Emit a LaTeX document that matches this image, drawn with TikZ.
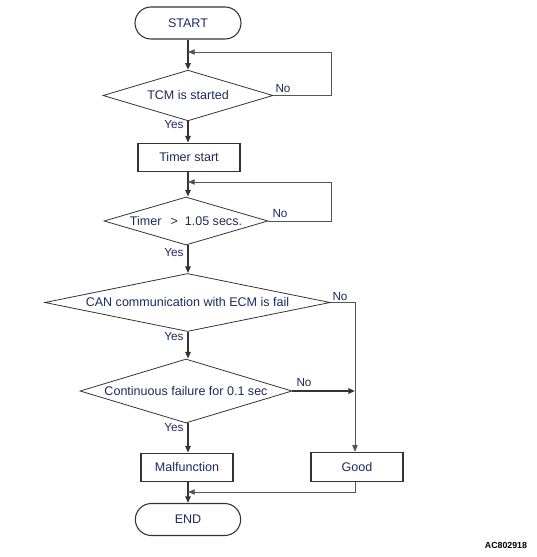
\documentclass[tikz,border=0pt]{standalone}
\usepackage{fontspec}
\setmainfont{Liberation Sans}
\usetikzlibrary{shapes.geometric,arrows.meta}
\definecolor{txt}{HTML}{1B2A5E}
\definecolor{ln}{HTML}{333333}
\definecolor{thinln}{HTML}{555555}
\begin{document}
\begin{tikzpicture}[x=0.75pt,y=-0.75pt,
  every node/.style={text=txt,font=\fontsize{9.4}{11}\selectfont},
  term/.style={draw=ln,line width=0.8pt,rectangle,rounded corners=12pt,inner sep=0pt},
  procbox/.style={draw=ln,line width=0.8pt,rectangle,inner sep=0pt},
  decision/.style={draw=ln,line width=0.6pt,diamond,inner sep=0pt},
  flow/.style={draw=ln,line width=1.6pt,-{Triangle[length=5pt,width=4pt]}},
  thinflow/.style={draw=thinln,line width=0.6pt,-{Triangle[length=5pt,width=4pt]}},
  thinline/.style={draw=thinln,line width=0.6pt},
  lab/.style={font=\fontsize{8.8}{10}\selectfont,inner sep=0pt}
]
\useasboundingbox (0,0) rectangle (536,557);
% nodes
\node[term,minimum width=79.5pt,minimum height=24pt] (start) at (188,23) {START};
\node[decision,minimum width=127.5pt,minimum height=38pt] (d1) at (188,95.5) {\makebox[0pt]{TCM is started}};
\node[procbox,minimum width=76.5pt,minimum height=21.5pt] (timer) at (189,157.5) {Timer start};
\node[decision,minimum width=123pt,minimum height=36pt] (d2) at (186,221) {\makebox[0pt]{Timer \ \,>\ \ 1.05 secs.}};
\node[decision,minimum width=214pt,minimum height=43.5pt] (d3) at (187.5,302.5) {\makebox[0pt]{CAN communication with ECM is fail}};
\node[decision,minimum width=159pt,minimum height=48pt] (d4) at (186,391) {\makebox[0pt]{Continuous failure for 0.1 sec}};
\node[procbox,minimum width=69pt,minimum height=21.5pt] (malf) at (187,467.5) {Malfunction};
\node[procbox,minimum width=69pt,minimum height=22pt] (good) at (357,467) {Good};
\node[term,minimum width=79pt,minimum height=24pt] (end) at (188,519.5) {END};
\node[font=\bfseries\fontsize{6.6}{8}\selectfont,text=black,inner sep=0pt] (code) at (506,545) {AC802918};
% coordinates
\coordinate (j1) at (188,52);
\coordinate (r1) at (331,52);
\coordinate (j2) at (188,182);
\coordinate (r2) at (331,182);
\coordinate (r3) at (355,302.5);
\coordinate (j4) at (355,391);
\coordinate (r5) at (355,492);
\coordinate (j5) at (188,492);
% main flow (all on the column x = 188)
\draw[flow] (start.south) -- (d1.north);
\draw[flow] (d1.south) -- (timer.north -| d1.south);
\draw[flow] (timer.south -| d1.south) -- (d2.north -| d1.south);
\draw[flow] (d2.south -| d1.south) -- (d3.north -| d1.south);
\draw[flow] (d3.south -| d1.south) -- (d4.north -| d1.south);
\draw[flow] (d4.south -| d1.south) -- (malf.north -| d1.south);
\draw[flow] (malf.south -| d1.south) -- (end.north);
% loops
\draw[thinflow] (d1.east) -| (r1) -- (j1);
\draw[thinflow] (d2.east) -| (r2) -- (j2);
% No branches
\draw[thinflow] (d3.east) -- (r3) -- (good.north -| r3);
\draw[flow] (d4.east) -- (j4);
\draw[thinflow] (good.south -| r3) -- (r5) -- (j5);
% labels
\node[lab] (y1) at (174,125) {Yes};
\node[lab] (n1) at (283,89) {No};
\node[lab] (y2) at (174,253) {Yes};
\node[lab] (n2) at (280,214) {No};
\node[lab] (y3) at (174,337) {Yes};
\node[lab] (n3) at (340,297) {No};
\node[lab] (y4) at (174,428) {Yes};
\node[lab] (n4) at (304,383) {No};
\end{tikzpicture}
\end{document}
